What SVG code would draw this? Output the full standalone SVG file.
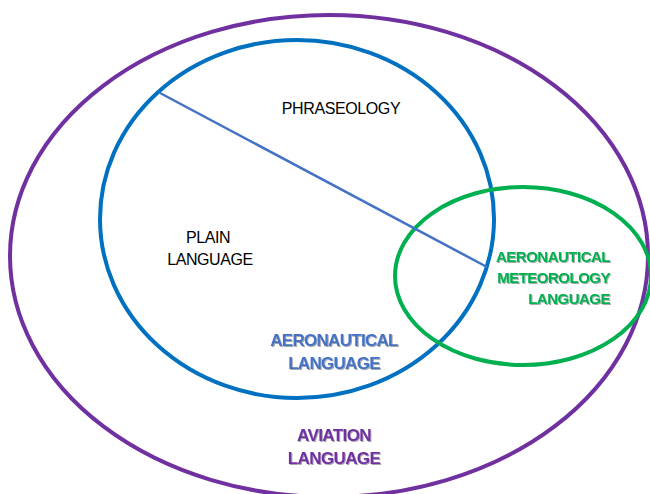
<svg xmlns="http://www.w3.org/2000/svg" width="650" height="494" viewBox="0 0 650 494">
<defs>
<filter id="sh" x="-10%" y="-30%" width="120%" height="160%">
<feDropShadow dx="1" dy="1" stdDeviation="0.7" flood-color="#000" flood-opacity="0.35"/>
</filter>
</defs>
<style>
.ring{fill:none;stroke-width:4}
.plain{font-family:"Liberation Sans",Arial,sans-serif;font-size:16px;fill:#000;text-anchor:middle;letter-spacing:-0.4px}
.bold{font-family:"Liberation Sans",Arial,sans-serif;font-weight:bold;filter:url(#sh)}
</style>
<rect width="650" height="494" fill="#fff"/>
<g id="aviation">
<ellipse class="ring" cx="329" cy="256" rx="319" ry="241" stroke="#7030A0"/>
<text class="bold" x="334" y="441" font-size="17" text-anchor="middle" fill="#7030A0" letter-spacing="-0.6">AVIATION</text>
<text class="bold" x="334" y="464" font-size="17" text-anchor="middle" fill="#7030A0" letter-spacing="-0.6">LANGUAGE</text>
</g>
<g id="aeronautical">
<ellipse class="ring" cx="297" cy="219" rx="197" ry="179" stroke="#0070C0"/>
<text class="bold" x="334" y="346" font-size="17" text-anchor="middle" fill="#4472C4" letter-spacing="-0.7">AERONAUTICAL</text>
<text class="bold" x="334" y="369" font-size="17" text-anchor="middle" fill="#4472C4" letter-spacing="-0.7">LANGUAGE</text>
</g>
<g id="meteorology">
<ellipse class="ring" cx="523" cy="276" rx="128" ry="89" stroke="#00B050"/>
<text class="bold" x="610" y="262" font-size="15" text-anchor="end" fill="#00B050" letter-spacing="-0.5">AERONAUTICAL</text>
<text class="bold" x="610" y="283" font-size="15" text-anchor="end" fill="#00B050" letter-spacing="-0.5">METEOROLOGY</text>
<text class="bold" x="610" y="304" font-size="15" text-anchor="end" fill="#00B050" letter-spacing="-0.5">LANGUAGE</text>
</g>
<g id="connectors">
<line x1="160" y1="93" x2="487" y2="267" stroke="#4472C4" stroke-width="2.5"/>
</g>
<g id="phraseology">
<text class="plain" x="341" y="114">PHRASEOLOGY</text>
</g>
<g id="plain-language">
<text class="plain" x="208" y="243">PLAIN</text>
<text class="plain" x="210" y="265">LANGUAGE</text>
</g>
</svg>
